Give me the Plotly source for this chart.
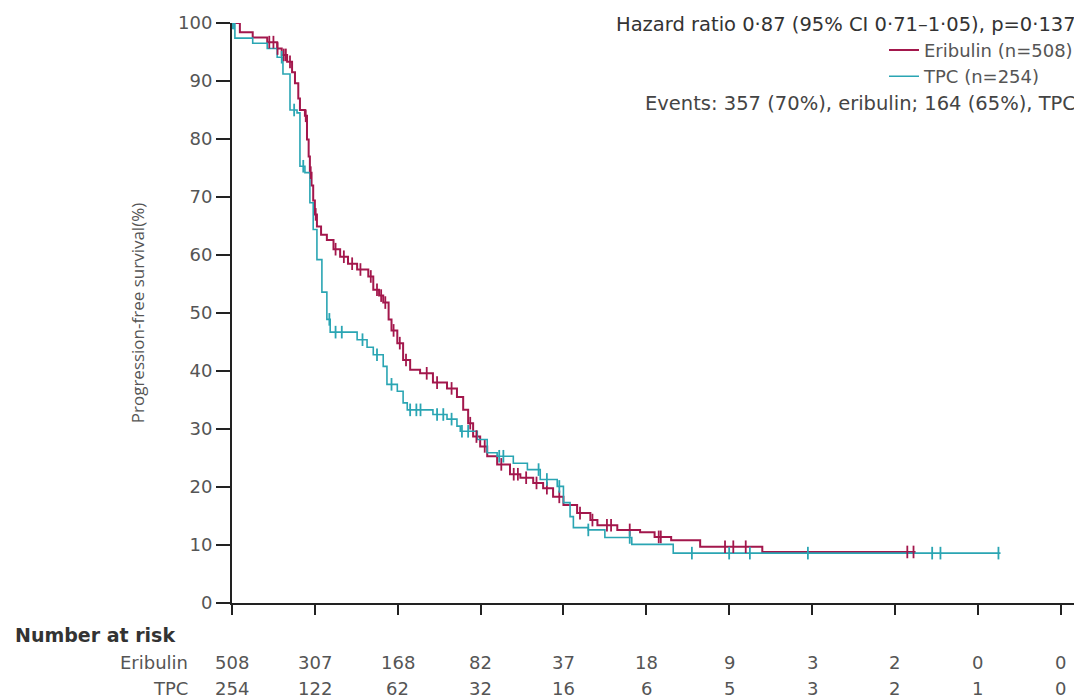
import numpy as np
import plotly.graph_objects as go

# ---- data (months, % progression-free) ----
eri_t = [0, 0.19, 0.5, 0.85, 1.09, 1.2, 1.33, 1.45, 1.52, 1.6, 1.64, 1.76, 1.81, 1.85, 1.88, 1.92,
         1.96, 2.0, 2.05, 2.15, 2.29, 2.45, 2.61, 2.8, 3.02, 3.29, 3.41, 3.55, 3.65, 3.78, 3.85,
         3.99, 4.13, 4.30, 4.54, 4.85, 5.19, 5.43, 5.58, 5.70, 5.82, 5.99, 6.16, 6.40, 6.71, 6.96,
         7.27, 7.51, 7.75, 8.0, 8.33, 8.65, 8.82, 9.3, 9.85, 10.2, 10.6, 11.3, 12.8, 16.5]
eri_s = [100, 98.4, 97.5, 96.7, 95.6, 94.5, 93.3, 91.5, 89.6, 87, 85, 84, 79.9, 77, 74.2, 72,
         69.4, 67, 64.9, 63.5, 62.6, 61, 59.7, 58.5, 57.5, 56.3, 54, 53, 51.8, 48.9, 47,
         44.8, 41.9, 40.2, 39.6, 38, 37, 35.5, 33.3, 31, 28.7, 27, 25.3, 23.9, 22.2, 21.6,
         20.7, 19.8, 18.3, 16.9, 15.5, 14.3, 13.4, 12.6, 12.2, 11.4, 10.8, 9.7, 8.8, 8.8]

tpc_t = [0, 0.07, 0.5, 0.85, 1.09, 1.23, 1.40, 1.57, 1.64, 1.76, 1.88, 1.96, 2.05, 2.17, 2.29,
         2.37, 3.02, 3.26, 3.41, 3.65, 3.74, 3.99, 4.13, 4.23, 4.85, 5.19, 5.43, 5.51, 5.92, 6.16,
         6.40, 6.79, 7.13, 7.44, 7.85, 8.0, 8.16, 8.24, 8.6, 9.0, 9.65, 10.65, 18.55]
tpc_s = [100, 97.4, 96.5, 95.6, 94.1, 91.2, 85, 84.5, 75.3, 74.2, 69, 64.4, 59.2, 53.6, 48.9,
         46.7, 45.4, 44.1, 42.8, 40.8, 37.7, 36.5, 34.5, 33.3, 32.5, 31.7, 30.5, 29.6, 28.2, 25.9,
         25.3, 24.1, 23, 21.3, 20.1, 17.3, 14.9, 13, 12.6, 11.3, 10.1, 8.6, 8.6]

eri_cens = [0.9, 1.0, 1.1, 1.25, 1.3, 1.4, 1.78, 1.9, 2.02, 2.5, 2.7, 2.9, 3.1, 3.35, 3.5, 3.6,
            3.7, 3.9, 4.05, 4.2, 4.7, 4.95, 5.3, 5.75, 5.9, 6.1, 6.5, 6.8, 6.9, 7.1, 7.35, 7.6,
            7.9, 8.4, 8.7, 9.05, 9.15, 9.6, 10.3, 10.35, 11.9, 12.1, 12.4, 16.3, 16.45]
tpc_cens = [0.02, 0.05, 1.2, 1.5, 1.72, 2.35, 2.5, 2.65, 3.15, 3.5, 3.85, 4.3, 4.45, 4.55,
            4.95, 5.1, 5.3, 5.55, 5.7, 6.45, 6.55, 7.4, 7.6, 7.9, 8.6, 9.6, 11.1, 12.0, 12.5,
            13.9, 16.9, 17.1, 18.5]

x_ticks = [0, 2, 4, 6, 8, 10, 12, 14, 16, 18, 20]
y_ticks = [0, 10, 20, 30, 40, 50, 60, 70, 80, 90, 100]
risk_eri = [508, 307, 168, 82, 37, 18, 9, 3, 2, 0, 0]
risk_tpc = [254, 122, 62, 32, 16, 6, 5, 3, 2, 1, 0]

ERI = "#a3174c"
TPC = "#2aa5b3"
GREY = "#555555"
FONT = "DejaVu Sans"


def step_at(times, surv, pts):
    t = np.asarray(times)
    s = np.asarray(surv)
    idx = np.searchsorted(t, np.asarray(pts), side="right") - 1
    return s[idx]


fig = go.Figure()
fig.add_trace(go.Scatter(x=eri_t, y=eri_s, mode="lines", line_shape="hv",
                         line=dict(color=ERI, width=2), name="Eribulin (n=508)"))
fig.add_trace(go.Scatter(x=tpc_t, y=tpc_s, mode="lines", line_shape="hv",
                         line=dict(color=TPC, width=1.6), name="TPC (n=254)"))
fig.add_trace(go.Scatter(x=eri_cens, y=step_at(eri_t, eri_s, eri_cens), mode="markers",
                         marker=dict(symbol="line-ns-open", size=9, color=ERI,
                                     line=dict(color=ERI, width=1.8)),
                         showlegend=False, hoverinfo="skip"))
fig.add_trace(go.Scatter(x=tpc_cens, y=step_at(tpc_t, tpc_s, tpc_cens), mode="markers",
                         marker=dict(symbol="line-ns-open", size=9, color=TPC,
                                     line=dict(color=TPC, width=1.8)),
                         showlegend=False, hoverinfo="skip"))

ann = []
ann.append(dict(text="Hazard ratio 0·87 (95% CI 0·71–1·05), p=0·137", x=1.0, y=0.9966,
                xref="paper", yref="paper", xanchor="right", yanchor="middle", showarrow=False,
                font=dict(family=FONT, size=19.5, color="#333333")))
ann.append(dict(text="Events: 357 (70%), eribulin; 164 (65%), TPC", x=1.0, y=0.862,
                xref="paper", yref="paper", xanchor="right", yanchor="middle", showarrow=False,
                font=dict(family=FONT, size=19.5, color="#444444")))
ann.append(dict(text="Progression-free survival(%)", x=-0.112, y=0.50, xref="paper", yref="paper",
                textangle=-90, showarrow=False, xanchor="center", yanchor="middle",
                font=dict(family="Open Sans", size=17, color=GREY)))
ann.append(dict(text="<b>Number at risk</b>", x=-0.259, y=-0.055, xref="paper", yref="paper",
                xanchor="left", yanchor="middle", showarrow=False,
                font=dict(family=FONT, size=19, color="#333333")))
ann.append(dict(text="Eribulin", x=-0.0496, y=-0.102, xref="paper", yref="paper",
                xanchor="right", yanchor="middle", showarrow=False,
                font=dict(family=FONT, size=18, color=GREY)))
ann.append(dict(text="TPC", x=-0.0496, y=-0.147, xref="paper", yref="paper",
                xanchor="right", yanchor="middle", showarrow=False,
                font=dict(family=FONT, size=18, color=GREY)))
for xt, a, b in zip(x_ticks, risk_eri, risk_tpc):
    ann.append(dict(text=str(a), x=xt, y=-0.102, xref="x", yref="paper", xanchor="center",
                    yanchor="middle", showarrow=False, font=dict(family=FONT, size=18, color=GREY)))
    ann.append(dict(text=str(b), x=xt, y=-0.147, xref="x", yref="paper", xanchor="center",
                    yanchor="middle", showarrow=False, font=dict(family=FONT, size=18, color=GREY)))

# page body has an 8px margin: figure is shifted by (8, 8) in the window
fig.update_layout(
    width=1074, height=690,
    margin=dict(l=224, r=4, t=15, b=95),
    paper_bgcolor="white", plot_bgcolor="white",
    showlegend=True,
    legend=dict(x=1.0, y=0.985, xanchor="right", yanchor="top", bgcolor="rgba(0,0,0,0)",
                font=dict(family=FONT, size=18, color=GREY), tracegroupgap=0),
    annotations=ann,
    xaxis=dict(range=[0, 20.42], tickvals=x_ticks, showticklabels=False, ticks="outside",
               ticklen=10, tickwidth=2, tickcolor="#222222", showline=True, linecolor="#222222",
               linewidth=2, showgrid=False, zeroline=False, fixedrange=True),
    yaxis=dict(range=[0, 100], tickvals=y_ticks, ticks="outside", ticklen=14, tickwidth=2,
               tickcolor="#222222", showline=True, linecolor="#222222", linewidth=2,
               showgrid=False, zeroline=False, tickfont=dict(family=FONT, size=18, color=GREY),
               fixedrange=True),
)

fig.write_html("out.html")
